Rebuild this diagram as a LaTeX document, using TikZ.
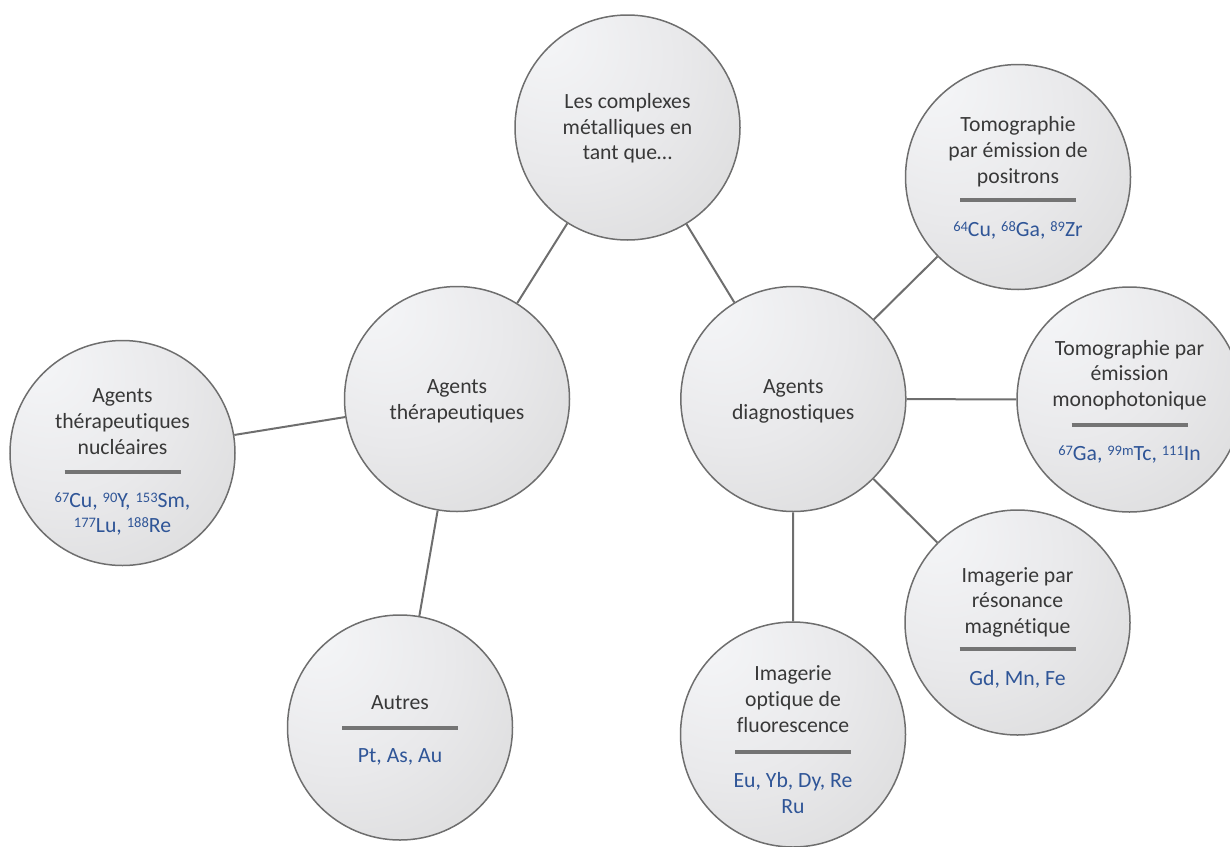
\documentclass[tikz,border=0pt]{standalone}
\usepackage{fontspec}
\setmainfont{Carlito}[Ligatures=NoCommon]
\definecolor{txtc}{HTML}{383838}
\definecolor{bluc}{HTML}{2F5597}
\definecolor{edgec}{HTML}{6E6E6E}
\definecolor{sepc}{HTML}{747474}
\definecolor{lnc}{HTML}{6E6E6E}
\definecolor{ga}{HTML}{F5F6F8}
\definecolor{gb}{HTML}{E9E9EB}
\definecolor{gc}{HTML}{D5D5D5}
\definecolor{gd}{HTML}{B4B4B4}
\pgfdeclareradialshading{bubble}{\pgfpoint{-20bp}{22bp}}{color(0bp)=(ga); color(25bp)=(gb); color(55bp)=(gc); color(78bp)=(gd)}
\newcommand\iso[1]{\raisebox{5pt}{\fontsize{14.5}{14.5}\selectfont #1}}
\newcommand\blk[1]{\parbox[t]{220pt}{\centering #1}}
\tikzset{
  bub/.style={circle, draw=edgec, line width=1.5pt, shading=bubble, minimum size=225pt, inner sep=0pt},
  ttl/.style={anchor=base, inner sep=0pt, text=txtc, font=\fontsize{21.7}{25.7}\selectfont},
  lst/.style={ttl, text=bluc},
  sepl/.style={draw=sepc, line width=4pt},
  link/.style={draw=lnc, line width=2pt}
}
\begin{document}
\begin{tikzpicture}[x=1pt,y=-1pt]
\useasboundingbox (0,0) rectangle (1230,846);
\clip (0,0) rectangle (1230,846);
% circles
\node[bub] (top)  at (627.5,127.5) {};
\node[bub] (ther) at (457,399) {};
\node[bub] (diag) at (793.3,399) {};
\node[bub] (nuc)  at (122.5,453) {};
\node[bub] (aut)  at (400,727.5) {};
\node[bub] (pos)  at (1018,177) {};
\node[bub] (mono) at (1129.5,399.5) {};
\node[bub] (irm)  at (1017.5,622.5) {};
\node[bub] (fluo) at (793,734.5) {};
% connectors
\draw[link] (top) -- (ther);
\draw[link] (top) -- (diag);
\draw[link] (ther) -- (nuc);
\draw[link] (ther) -- (aut);
\draw[link] (diag) -- (pos);
\draw[link] (diag) -- (mono);
\draw[link] (diag) -- (irm);
\draw[link] (diag) -- (fluo);
% texts
\node[ttl] (top-t) at (627.5,108.5) {\blk{Les complexes\\métalliques en\\tant que…}};
\node[ttl] (ther-t) at (457,393.5) {\blk{Agents\\thérapeutiques}};
\node[ttl] (diag-t) at (793.3,393.5) {\blk{Agents\\diagnostiques}};
% nucleaires
\node[ttl] (nuc-t) at (122.5,402.7) {\blk{Agents\\thérapeutiques\\nucléaires}};
\draw[sepl] (64.5,471.7) -- ++(116,0);
\node[lst] (nuc-l) at (122.5,507) {\blk{\iso{67}Cu, \iso{90}Y, \iso{153}Sm,\\\iso{177}Lu, \iso{188}Re}};
% positrons
\node[ttl] (pos-t) at (1018,131.7) {\blk{Tomographie\\par émission de\\positrons}};
\draw[sepl] (960,200) -- ++(116,0);
\node[lst] (pos-l) at (1018,236.5) {\blk{\iso{64}Cu, \iso{68}Ga, \iso{89}Zr}};
% mono
\node[ttl] (mono-t) at (1129.5,355) {\blk{Tomographie par\\émission\\monophotonique}};
\draw[sepl] (1071.5,425) -- ++(116,0);
\node[lst] (mono-l) at (1129.5,460) {\blk{\iso{67}Ga, \iso{99m}Tc, \iso{111}In}};
% irm
\node[ttl] (irm-t) at (1017.5,582) {\blk{Imagerie par\\résonance\\magnétique}};
\draw[sepl] (959.5,649) -- ++(116,0);
\node[lst] (irm-l) at (1017.5,685) {\blk{Gd, Mn, Fe}};
% fluo
\node[ttl] (fluo-t) at (793,680.7) {\blk{Imagerie\\optique de\\fluorescence}};
\draw[sepl] (735,751.7) -- ++(116,0);
\node[lst] (fluo-l) at (793,787.5) {\blk{Eu, Yb, Dy, Re\\Ru}};
% autres
\node[ttl] (aut-t) at (400,709) {\blk{Autres}};
\draw[sepl] (342,728.3) -- ++(116,0);
\node[lst] (aut-l) at (400,762) {\blk{Pt, As, Au}};
\end{tikzpicture}
\end{document}
